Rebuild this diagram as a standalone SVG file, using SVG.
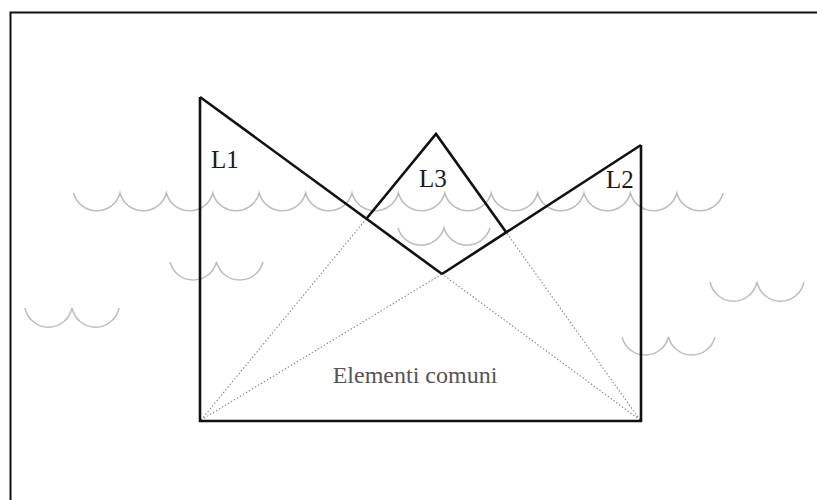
<svg xmlns="http://www.w3.org/2000/svg" width="817" height="500" viewBox="0 0 817 500">
<style>
.wave{fill:none;stroke:#bdbdbd;stroke-width:1.5}
.solid{fill:none;stroke:#111;stroke-width:2.6;stroke-linejoin:miter}
.dot{fill:none;stroke:#888;stroke-width:1.1;stroke-dasharray:1.5 2}
.lbl{font-family:"Liberation Serif","Times New Roman",serif;font-size:25px;fill:#1a1a1a}
.cm{font-family:"Liberation Serif","Times New Roman",serif;font-size:24px;fill:#555}
</style>
<rect width="817" height="500" fill="#fff"/>
<path d="M10.5 500 V12.5 H817" fill="none" stroke="#111" stroke-width="2"/>
<g id="waves">
<path class="wave" d="M73.6 193 a24 24 0 0 0 46.4 0 a24 24 0 0 0 46.4 0 a24 24 0 0 0 46.4 0 a24 24 0 0 0 46.4 0 a24 24 0 0 0 46.4 0 a24 24 0 0 0 46.4 0 a24 24 0 0 0 46.4 0 a24 24 0 0 0 46.4 0 a24 24 0 0 0 46.4 0 a24 24 0 0 0 46.4 0 a24 24 0 0 0 46.4 0 a24 24 0 0 0 46.4 0 a24 24 0 0 0 46.4 0 a24 24 0 0 0 46.4 0"/>
<path class="wave" d="M398 228 a24 24 0 0 0 46 0 a24 24 0 0 0 46 0"/>
<path class="wave" d="M170 262 a24 24 0 0 0 46.5 0 a24 24 0 0 0 46.5 0"/>
<path class="wave" d="M25 308 a24 24 0 0 0 47 0 a24 24 0 0 0 47 0"/>
<path class="wave" d="M710 282 a24 24 0 0 0 47 0 a24 24 0 0 0 47 0"/>
<path class="wave" d="M622 337 a24 24 0 0 0 46.5 0 a24 24 0 0 0 46.5 0"/>
</g>
<g id="connectors">
<line class="dot" x1="201" y1="420" x2="367" y2="218"/>
<line class="dot" x1="201" y1="420" x2="442" y2="274"/>
<line class="dot" x1="640" y1="420" x2="442" y2="274"/>
<line class="dot" x1="640" y1="420" x2="506" y2="232"/>
</g>
<g id="common">
<path class="solid" d="M200 97 V421 H641 V145"/>
<text class="cm" x="415" y="383" text-anchor="middle">Elementi comuni</text>
</g>
<g id="L1">
<path class="solid" d="M200 97 L442 274"/>
<text class="lbl" x="211" y="168">L1</text>
</g>
<g id="L2">
<path class="solid" d="M442 274 L641 145"/>
<text class="lbl" x="606" y="188">L2</text>
</g>
<g id="L3">
<path class="solid" d="M367 218 L436 134 L506 232"/>
<text class="lbl" x="419" y="187">L3</text>
</g>
</svg>
